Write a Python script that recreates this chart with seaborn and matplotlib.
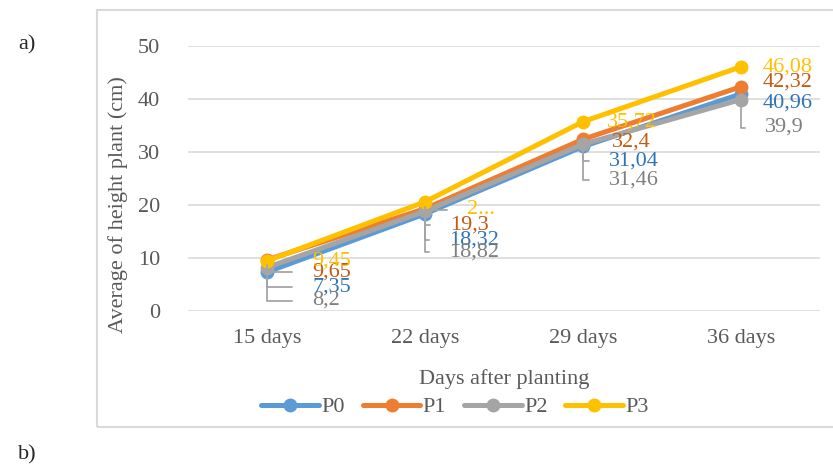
import numpy as np
import pandas as pd
import matplotlib.pyplot as plt
import seaborn as sns
from matplotlib.patches import Rectangle

sns.set_style("white")
plt.rcParams['font.family'] = ['Liberation Serif', 'DejaVu Serif']

# 数据
days = ['15 days', '22 days', '29 days', '36 days']
series = ['P0', 'P1', 'P2', 'P3']
p0 = [7.35, 18.32, 31.04, 40.96]
p1 = [9.65, 19.3, 32.4, 42.32]
p2 = [8.2, 18.82, 31.46, 39.9]
p3 = [9.45, 20.6, 35.72, 46.08]
labels_p0 = ['7,35', '18,32', '31,04', '40,96']
labels_p1 = ['9,65', '19,3', '32,4', '42,32']
labels_p2 = ['8,2', '18,82', '31,46', '39,9']
labels_p3 = ['9,45', '2...', '35,72', '46,08']

colors = ['#5B9BD5', '#ED7D31', '#A5A5A5', '#FFC000']
text_colors = ['#2E75B6', '#C55A11', '#7F7F7F', '#FFC000']

values = [p0, p1, p2, p3]
all_labels = [labels_p0, labels_p1, labels_p2, labels_p3]

df = pd.DataFrame({
    'day': days * 4,
    'height': p0 + p1 + p2 + p3,
    'series': [s for s in series for _ in days],
})

# 标签偏移 (像素, 右/下)
offsets = {
    'P0': [(45, 15), (24, 26), (26, 15), (22, 9)],
    'P1': [(45, 12), (25, 16), (29, 3), (22, -5)],
    'P2': [(45, 33), (24, 41), (26, 36), (24, 28)],
    'P3': [(45, 0), (42, 8), (24, 0), (22, 0)],
}

FS = 16

fig = plt.figure(figsize=(8.33, 4.65), dpi=100)
ax = fig.add_axes([188 / 833, 1 - 311 / 465, 632 / 833, 265 / 465])

sns.lineplot(data=df, x='day', y='height', hue='series', palette=colors,
             marker='o', markersize=10, markeredgewidth=0, linewidth=3.6,
             sort=False, ax=ax)

ax.set_ylim(0, 50)
ax.set_xlim(-0.5, 3.5)
ax.set_yticks(range(0, 51, 10))
for s in ax.spines.values():
    s.set_visible(False)
ax.grid(axis='y', color='#d9d9d9', linewidth=1.2)
ax.set_axisbelow(True)
ax.tick_params(axis='y', length=0, pad=20, labelsize=FS, labelcolor='#595959')
ax.tick_params(axis='x', length=0, pad=13, labelsize=FS, labelcolor='#595959')

ax.set_xlabel('Days after planting', fontsize=FS, color='#595959', labelpad=15)
ax.set_ylabel('Average of height plant (cm)', fontsize=FS, color='#595959')
ax.yaxis.set_label_coords(-0.095, 0.40)

# 数据标签
for k, s in enumerate(series):
    for i in range(len(days)):
        dx, dy = offsets[s][i]
        ax.annotate(all_labels[k][i], xy=(i, values[k][i]),
                    xytext=(dx, -dy), textcoords='offset pixels',
                    ha='left', va='center', fontsize=FS, color=text_colors[k],
                    arrowprops=dict(arrowstyle='-', color='#A5A5A5', lw=1.3,
                                    shrinkA=12, shrinkB=4,
                                    connectionstyle='angle,angleA=0,angleB=90,rad=0')
                    if abs(dy) > 6 else None)

handles, labs = ax.get_legend_handles_labels()
ax.get_legend().remove()
fig.legend(handles, labs, loc='center', bbox_to_anchor=(455 / 833, 1 - 407 / 465),
           ncol=4, frameon=False, fontsize=FS, handlelength=2.6,
           columnspacing=0.8, handletextpad=0.1, labelcolor='#595959')

fig.patches.append(Rectangle((97 / 833, 1 - 427 / 465), 0.9, 417 / 465,
                             transform=fig.transFigure, fill=False,
                             edgecolor='#d9d9d9', linewidth=1.5))
fig.text(18 / 833, 1 - 45 / 465, 'a)', fontsize=FS, va='center', ha='left')
fig.text(18 / 833, 1 - 455 / 465, 'b)', fontsize=FS, va='center', ha='left')

fig.savefig('out.png', dpi=100)
